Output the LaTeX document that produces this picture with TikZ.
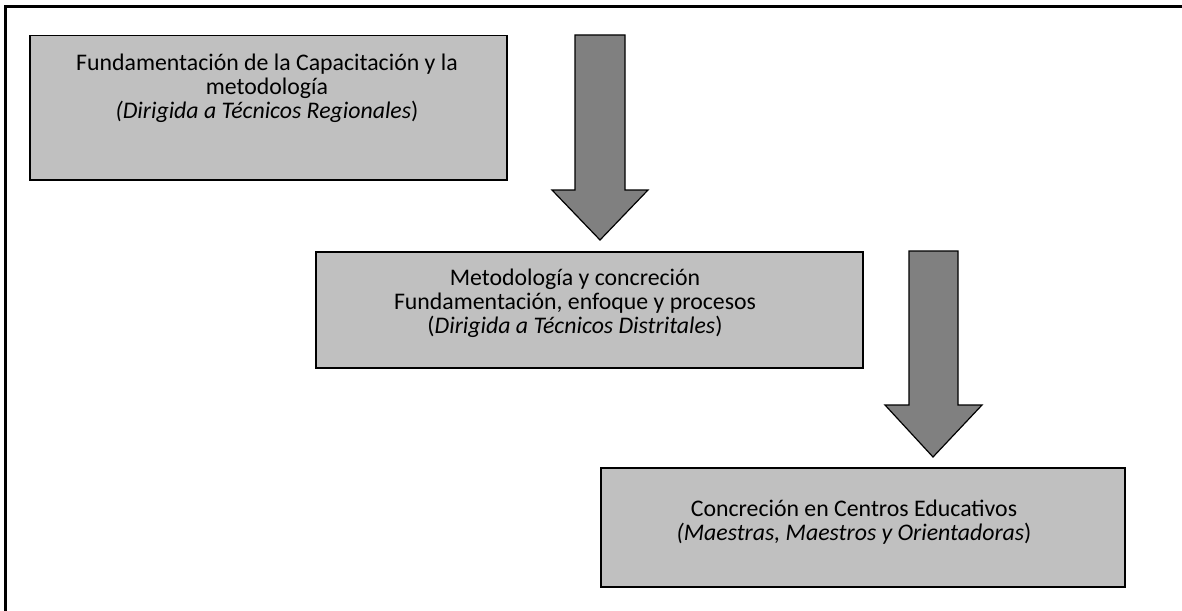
\documentclass[tikz,border=0pt]{standalone}
\usepackage{fontspec}
\setmainfont{Carlito}
\definecolor{boxgray}{HTML}{C0C0C0}
\definecolor{arrowgray}{HTML}{808080}
\begin{document}
\begin{tikzpicture}[x=1pt,y=-1pt,
  stagebox/.style={draw=black, line width=1.5pt, fill=boxgray, rectangle, inner sep=0pt, anchor=north west},
  stagetext/.style={align=center, inner sep=0pt, anchor=north, font=\fontsize{23.8}{23.7}\selectfont},
  blockarrow/.style={draw=black, line width=1.2pt, fill=arrowgray, line join=miter}]
\useasboundingbox (0,0) rectangle (1182,610);
% frame (only top and left visible)
\coordinate (fbl) at (5,612);
\coordinate (ftl) at (5,7);
\coordinate (ftr) at (1184,7);
\draw[line width=3pt] (fbl) -- (ftl) -- (ftr);
% boxes
\node[stagebox, minimum width=477pt, minimum height=144pt] (b1) at (29,35) {};
\node[stagebox, minimum width=547pt, minimum height=116pt] (b2) at (315,251) {};
\node[stagebox, minimum width=524pt, minimum height=119pt] (b3) at (600,467) {};
% texts
\node[stagetext] (t1) at (267,54) {Fundamentación de la Capacitación y la\\ metodología\\ \textit{(Dirigida a Técnicos Regionales}) };
\node[stagetext] (t2) at (575,269) {Metodología y concreción\\ Fundamentación, enfoque y procesos\\ (\textit{Dirigida a Técnicos Distritales})};
\node[stagetext] (t3) at (854,500) {Concreción en Centros Educativos\\ \textit{(Maestras, Maestros y Orientadoras})};
% block arrows
\draw[blockarrow] (575,35) -- (625,35) -- (625,190) -- (648,190) -- (600,240) -- (552,190) -- (575,190) -- cycle;
\draw[blockarrow] (909,251) -- (958,251) -- (958,405) -- (982,405) -- (933,457) -- (885,405) -- (909,405) -- cycle;
\end{tikzpicture}
\end{document}
